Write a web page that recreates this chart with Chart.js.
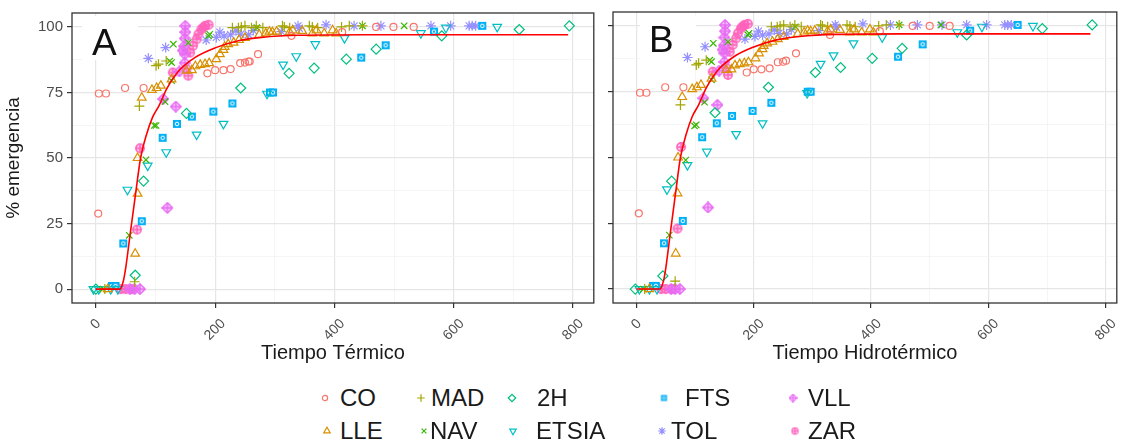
<!DOCTYPE html>
<html>
<head>
<meta charset="utf-8">
<script src="https://cdn.jsdelivr.net/npm/chart.js@4.4.1/dist/chart.umd.min.js"></script>
<style>
  body { margin: 0; background: #fff; width: 1123px; height: 439px; overflow: hidden; position: relative;
         font-family: "Liberation Sans", Arial, sans-serif; }
  #ca { position: absolute; left: 0; top: 0; }
  #cb { position: absolute; left: 600px; top: 0; }
  .lg { position: absolute; font-size: 24px; color: #1a1a1a; line-height: 28px; transform: translateY(-50%); white-space: nowrap; }
  .sym { position: absolute; transform: translate(-50%, -50%); }
</style>
</head>
<body>
<canvas id="ca" width="600" height="370"></canvas>
<canvas id="cb" width="523" height="370"></canvas>
<div id="legend"></div>
<script>
// series names and colours (ggplot hue palette)
const names = ['CO', 'LLE', 'MAD', 'NAV', '2H', 'ETSIA', 'FTS', 'TOL', 'VLL', 'ZAR'];
const colors = ['#F8766D', '#D89000', '#A3A500', '#39B600', '#00BF7D', '#00BFC4', '#00B0F6', '#9590FF', '#E76BF3', '#FF62BC'];

const xTickLabels = [0, 200, 400, 600, 800];
const yTickLabels = [0, 25, 50, 75, 100];

// panel A - Tiempo Térmico
const coA = [[5,74.6],[17,74.6],[49,76.7],[80,76.7],[4,28.8],[187,82.3],[200,83.5],[214,83.5],[226,83.9],[242,86.2],[250,86.4],[256,86.8],[258,86.8],[272,89.6],[328,96.6],[413,98],[470,100],[499,100],[533,100]];
const lleA = [[20,0],[66,13.5],[70,36.4],[70,50],[77,73],[94,76],[102,76.7],[109,77.6],[127,80],[152,83.3],[161,83.5],[167,85],[175,85.5],[183,85.8],[190,86.2],[202,87.7],[208,89.6],[214,91.2],[216,92.4],[222,93.4],[231,94],[240,95],[250,95.8],[274,97],[285,97.5],[291,98.2],[296,98],[303,98.2],[325,98],[330,98.7],[346,98.5],[363,97.5],[370,98.7],[383,97.5],[397,98.7],[403,97.5]];
const madA = [[15,0],[65,2.8],[73,69.8],[101,85.2],[105,85.8],[118,87],[229,99.7],[239,99.7],[244,100],[250,100.4],[261,99.7],[269,100.4],[280,99.7],[313,100.4],[316,100],[325,99.7],[358,100.4],[363,100],[372,99.7],[412,100],[425,100.4],[447,100.4]];
const navA = [[12,0],[56,20.5],[84,49.3],[98,62.4],[101,62.4],[116,71.5],[127,79.5],[124,87],[127,86.4],[130,93.4],[155,94],[189,96.6],[191,97.2],[270,99.7],[447,100.4],[517,100.4]];
const h2A = [[0,0],[66,5.3],[80,41.2],[152,67],[243,76.7],[324,82.3],[366,84.3],[420,87.7],[470,91.5],[580,96.6],[710,99],[794,100.4]];
const etsiaA = [[-4,0],[5,0],[25,0],[37,0],[53,37.9],[87,47.1],[118,52.2],[169,58.9],[214,63],[287,74.5],[314,85.6],[336,88.8],[368,93.4],[417,95.7],[545,97.6],[587,99.7],[673,100]];
const ftsA = [[27,1.2],[33,1.2],[46,17.4],[77,25.9],[112,57.7],[136,63],[161,65.8],[197,67.7],[229,70.8],[292,75],[297,75],[445,88.3],[486,93],[567,98.2],[648,100.4]];
const tolA = [[88,88],[117,92.1],[185,95],[202,96],[208,98],[215,96.5],[226,97],[235,98.5],[243,97.2],[256,97],[264,98.6],[311,98.2],[341,99.5],[339,100.4],[386,100.8],[433,100.4],[478,100.4],[562,100.4],[595,100.4],[626,100.4],[631,100.4],[637,100.4]];
const vllA = [[57,0],[65,0],[74,0],[120,31],[113,72.5],[134,69.6],[140,83],[149,86.3],[149,89.6],[146,91],[148,92.6],[149,95.6],[150,98],[150,100.4]];
const zarA = [[42,0],[50,0],[60,0],[69,22.7],[74,53.7],[129,82.6],[152,84],[155,81.4],[158,90.2],[163,92.8],[169,95.3],[172,97.2],[177,99.1],[180,99.7],[183,100.4],[189,100.8]];
const fitXA = [0, 40, 46, 50, 57, 67, 75, 85, 95, 106, 119, 138, 166, 200, 239, 278, 340, 450, 792];
const fitYA = [0, 0, 3, 8, 20, 37, 50, 59, 65.5, 70, 76.5, 83, 88.3, 92, 94.7, 96, 96.8, 97, 97];

// panel B - Tiempo Hidrotérmico
const coB = [[6,74.6],[17,74.6],[49,76.7],[80,76.7],[4,28.8],[188,82.3],[200,83.5],[213,83.5],[227,83.9],[241,86.2],[250,86.4],[255,86.8],[272,89.6],[330,96.6],[415,98],[471,100],[500,100],[534,100]];
const lleB = [[22,0],[67,13.5],[70,36.4],[71,50],[78,73],[95,76],[103,76.7],[110,77.6],[128,80],[153,83.3],[162,83.5],[168,85],[176,85.5],[184,85.8],[191,86.2],[203,87.7],[209,89.6],[215,91.2],[217,92.4],[223,93.4],[232,94],[241,95],[251,95.8],[275,97],[286,97.5],[292,98.2],[297,98],[304,98.2],[326,98],[331,98.7],[347,98.5],[364,97.5],[371,98.7],[384,97.5],[398,98.7],[404,97.5]];
const madB = [[14,0],[66,3],[75,70],[102,85.2],[106,85.8],[119,87],[230,99.7],[240,99.7],[245,100],[251,100.4],[262,99.7],[270,100.4],[281,99.7],[314,100.4],[317,100],[326,99.7],[359,100.4],[364,100],[373,99.7],[413,100],[426,100.4],[448,100.4]];
const navB = [[12,0],[56,20.5],[84,49],[99,62],[102,62.4],[116,71],[128,79.5],[125,87],[128,86.4],[131,93.4],[156,94],[190,96.6],[192,97.2],[271,99.7],[448,100.4],[519,100.4]];
const h2B = [[-2,0],[45,5],[60,41],[134,67],[225,76.7],[305,82.3],[348,84.2],[402,87.7],[453,91.5],[563,96.6],[692,99],[777,100.4]];
const etsiaB = [[5,0],[22,0],[35,0],[52,37.9],[87,47.1],[120,52.2],[170,58.9],[215,63],[291,74.5],[314,85.6],[336,88.8],[370,93.4],[419,95.7],[547,97.6],[589,99.7],[676,100]];
const ftsB = [[28,1.2],[33,1.2],[47,17.4],[79,25.9],[112,57.7],[137,63],[163,65.8],[198,67.7],[230,70.8],[292,75],[297,75],[446,88.3],[488,93],[569,98.2],[650,100.4]];
const tolB = [[87,88],[117,92.1],[185,95],[202,96],[208,98],[215,96.5],[226,97],[235,98.5],[243,97.2],[256,97],[264,98.6],[311,98.2],[341,99.5],[339,100.4],[386,100.8],[433,100.4],[479,100.4],[521,100.4],[563,100.4],[597,100.4],[628,100.4],[633,100.4],[639,100.4]];
const vllB = [[59,0],[66,0],[74,0],[122,31],[114,72.5],[138,70],[141,83],[150,86.3],[150,89.6],[147,91],[149,92.6],[150,95.6],[151,98],[151,100.4]];
const zarB = [[42,0],[50,0],[60,0],[70,23],[76,54],[130,82.6],[153,84],[156,81.4],[159,90.2],[164,92.8],[170,95.3],[173,97.2],[178,99.1],[181,99.7],[184,100.4],[190,100.8]];
const fitXB = [0, 40, 46, 50, 57, 67, 75, 85, 95, 106, 119, 138, 166, 200, 239, 278, 340, 450, 774];
const fitYB = [0, 0, 3, 8, 20, 37, 50, 59, 65.5, 70, 76.5, 83, 88.3, 92, 94.7, 96, 96.8, 97, 97];

const FONT = '"Liberation Sans", Arial, sans-serif';

// little canvases for the shapes Chart.js does not have
function icon(kind, color, k) {
  const n = Math.round(12 * k);
  const c = document.createElement('canvas');
  c.width = n; c.height = n;
  const g = c.getContext('2d');
  g.scale(k, k);
  g.strokeStyle = color; g.fillStyle = color; g.lineWidth = 1.4;
  if (kind === 'fts') {
    g.fillRect(2, 2, 8, 8);
    g.strokeStyle = '#fff'; g.lineWidth = 1;
    g.beginPath(); g.arc(6, 6, 1.8, 0, Math.PI * 2); g.stroke();
  } else if (kind === 'vll') {
    g.globalAlpha = 0.35;
    g.beginPath(); g.moveTo(6, 0.8); g.lineTo(11.2, 6); g.lineTo(6, 11.2); g.lineTo(0.8, 6); g.closePath(); g.fill();
    g.globalAlpha = 1;
    g.stroke();
    g.beginPath(); g.moveTo(6, 1); g.lineTo(6, 11); g.moveTo(1, 6); g.lineTo(11, 6); g.stroke();
  } else {
    g.globalAlpha = 0.35;
    g.beginPath(); g.arc(6, 6, 4.2, 0, Math.PI * 2); g.fill();
    g.globalAlpha = 1;
    g.stroke();
    g.beginPath(); g.moveTo(6, 1.8); g.lineTo(6, 10.2); g.moveTo(1.8, 6); g.lineTo(10.2, 6); g.stroke();
  }
  return c;
}

const iconKinds = { 6: 'fts', 8: 'vll', 9: 'zar' };
const styles = [
  { pointStyle: 'circle', radius: 3.5 },
  { pointStyle: 'triangle', radius: 5 },
  { pointStyle: 'cross', radius: 5 },
  { pointStyle: 'crossRot', radius: 4.5 },
  { pointStyle: 'rectRot', radius: 5 },
  { pointStyle: 'triangle', radius: 5, rotation: 180 },
  { pointStyle: icon('fts', colors[6], 1), radius: 5 },
  { pointStyle: 'star', radius: 5 },
  { pointStyle: icon('vll', colors[8], 1), radius: 5 },
  { pointStyle: icon('zar', colors[9], 1), radius: 5 },
];

const toPts = arr => arr.map(p => ({ x: p[0], y: p[1] }));

function grid(major) {
  return {
    color: c => (major(c.tick.value) ? '#E6E6E6' : '#F3F3F3'),
    lineWidth: c => (major(c.tick.value) ? 1.2 : 0.8),
    tickColor: c => (major(c.tick.value) ? '#333' : 'rgba(0,0,0,0)'),
    tickLength: 5,
    drawTicks: true,
  };
}

function panelPlugin(letter, box, lx, ly) {
  return {
    id: 'panel' + letter,
    beforeDatasetsDraw(chart) {
      const ctx = chart.ctx;
      ctx.save();
      ctx.fillStyle = '#fff';
      ctx.fillRect(box[0], box[1], box[2], box[3]);
      ctx.restore();
    },
    afterDraw(chart) {
      const { ctx, chartArea: a } = chart;
      const sx = chart.scales.x;
      ctx.save();
      ctx.strokeStyle = '#333';
      ctx.lineWidth = 1.3;
      ctx.strokeRect(a.left, a.top, a.right - a.left, a.bottom - a.top);
      ctx.fillStyle = '#111';
      ctx.font = '37px ' + FONT;
      ctx.textBaseline = 'alphabetic';
      ctx.fillText(letter, lx, ly);
      // rotated x tick labels, top of their box aligned like ggplot
      ctx.font = '14px ' + FONT;
      ctx.fillStyle = '#4d4d4d';
      ctx.textAlign = 'center';
      ctx.textBaseline = 'middle';
      xTickLabels.forEach(v => {
        const t = String(v);
        const w = ctx.measureText(t).width;
        const b = (w + 10) * Math.SQRT1_2;
        ctx.save();
        ctx.translate(sx.getPixelForValue(v), sx.top + 15 + b / 2);
        ctx.rotate(-Math.PI / 4);
        ctx.fillText(t, 0, 0);
        ctx.restore();
      });
      ctx.restore();
    },
  };
}

function makeChart(id, series, fitX, fitY, cfg) {
  const datasets = [{
    label: 'ajuste',
    data: fitX.map((x, i) => ({ x, y: fitY[i] })),
    showLine: true,
    borderColor: '#FF0000',
    borderWidth: 1.6,
    pointRadius: 0,
    cubicInterpolationMode: 'monotone',
  }];
  series.forEach((s, i) => {
    datasets.push({
      label: names[i],
      data: toPts(s),
      pointStyle: styles[i].pointStyle,
      pointRadius: styles[i].radius,
      pointRotation: styles[i].rotation || 0,
      pointBorderWidth: 1.2,
      borderColor: colors[i],
      backgroundColor: 'rgba(0,0,0,0)',
      showLine: false,
    });
  });
  return new Chart(document.getElementById(id), {
    type: 'scatter',
    data: { datasets },
    options: {
      responsive: false,
      animation: false,
      layout: { padding: { left: 0, top: 12, right: cfg.padRight, bottom: 0 } },
      plugins: { legend: { display: false }, tooltip: { enabled: false } },
      scales: {
        x: {
          type: 'linear', min: -40, max: cfg.xMax,
          afterBuildTicks: s => { s.ticks = [0, 100, 200, 300, 400, 500, 600, 700, 800].map(v => ({ value: v })); },
          afterFit: s => { s.height = 67; },
          ticks: { display: false },
          grid: grid(v => v % 200 === 0),
          border: { display: false },
          title: { display: true, text: cfg.xTitle, color: '#1a1a1a', font: { family: FONT, size: 20 }, padding: { top: 0, bottom: 5 } },
        },
        y: {
          type: 'linear', min: -5.3, max: 105.3,
          afterBuildTicks: s => { s.ticks = [0, 12.5, 25, 37.5, 50, 62.5, 75, 87.5, 100].map(v => ({ value: v })); },
          afterFit: s => { s.width = cfg.yWidth; },
          ticks: {
            display: cfg.yLabels,
            padding: 4,
            color: '#4d4d4d',
            font: { family: FONT, size: 15 },
            callback: v => (yTickLabels.includes(v) ? String(v) : ''),
          },
          grid: grid(v => v % 25 === 0),
          border: { display: false },
          title: { display: cfg.yLabels, text: '% emergencia', color: '#1a1a1a', font: { family: FONT, size: 19 }, padding: { top: 2, bottom: 0 } },
        },
      },
    },
    plugins: [panelPlugin(cfg.letter, cfg.box, cfg.lx, cfg.ly)],
  });
}

makeChart('ca', [coA, lleA, madA, navA, h2A, etsiaA, ftsA, tolA, vllA, zarA], fitXA, fitYA,
  { xMax: 835, padRight: 5, yWidth: 72, yLabels: true, xTitle: 'Tiempo Térmico', letter: 'A', box: [82, 16, 56, 44], lx: 92, ly: 55 });
makeChart('cb', [coB, lleB, madB, navB, h2B, etsiaB, ftsB, tolB, vllB, zarB], fitXB, fitYB,
  { xMax: 819, padRight: 0, yWidth: 13, yLabels: false, xTitle: 'Tiempo Hidrotérmico', letter: 'B', box: [40, 16, 56, 44], lx: 49, ly: 52 });

// legend, two rows like ggplot
const legendSym = [325, 327, 421, 424, 512, 513, 664, 662, 793, 795];
const legendText = [340, 340, 431, 430, 537, 536, 685, 671, 808, 808];
const legendRowY = [398, 431];
const lg = document.getElementById('legend');
names.forEach((n, i) => {
  const y = legendRowY[i % 2];
  const c = document.createElement('canvas');
  c.width = 14; c.height = 14; c.className = 'sym';
  c.style.left = legendSym[i] + 'px'; c.style.top = y + 'px';
  const g = c.getContext('2d');
  g.strokeStyle = colors[i]; g.fillStyle = 'rgba(0,0,0,0)'; g.lineWidth = 1.2;
  const st = styles[i];
  const ps = iconKinds[i] ? icon(iconKinds[i], colors[i], 0.75) : st.pointStyle;
  Chart.helpers.drawPoint(g, { pointStyle: ps, radius: st.radius * 0.75, rotation: st.rotation || 0, borderWidth: 1.2 }, 7, 7);
  lg.appendChild(c);
  const t = document.createElement('div');
  t.className = 'lg'; t.textContent = n;
  t.style.left = legendText[i] + 'px'; t.style.top = y + 'px';
  lg.appendChild(t);
});
</script>
</body>
</html>
